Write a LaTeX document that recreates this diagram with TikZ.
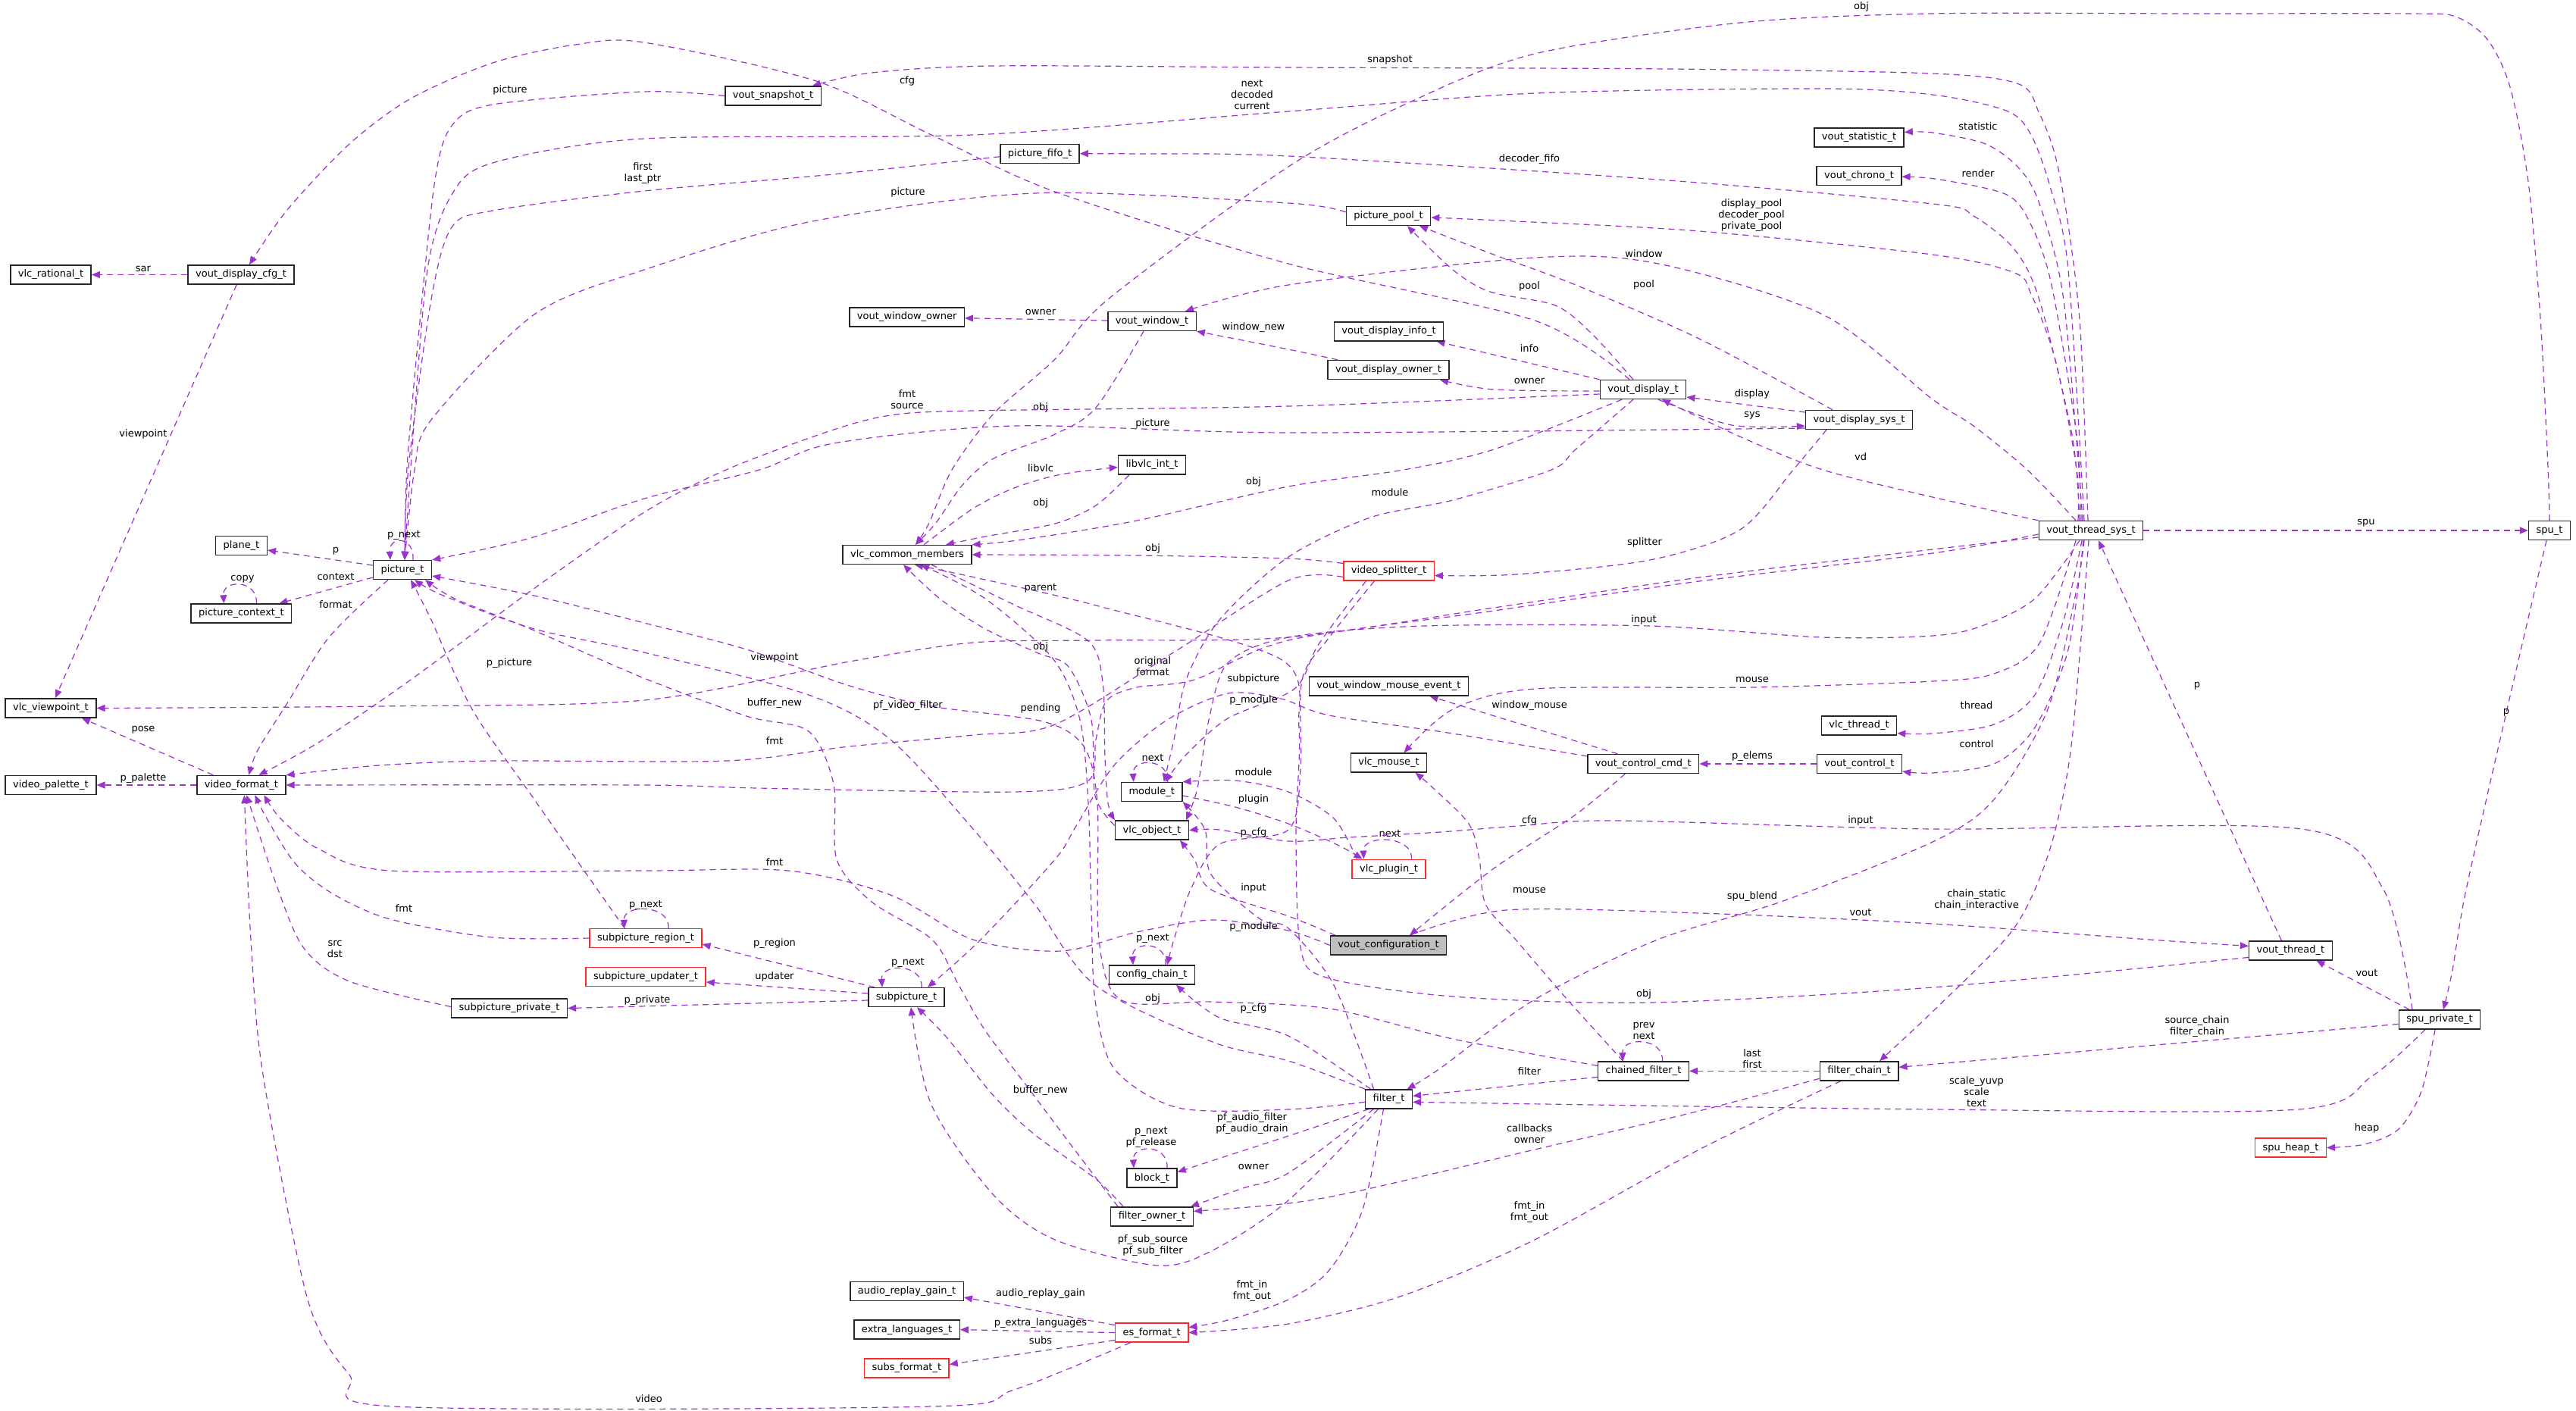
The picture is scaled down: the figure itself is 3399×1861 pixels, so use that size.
\documentclass[tikz,border=0pt]{standalone}
\usepackage{fontspec}
\setmainfont{DejaVu Sans}
\usetikzlibrary{arrows.meta, backgrounds}
\definecolor{edgec}{RGB}{154,50,205}
\definecolor{truncred}{RGB}{255,40,40}
\newcommand\gfont{\fontsize{13}{15}\selectfont}
\tikzset{cls/.style={draw=black!85, line width=1.4pt, fill=white, minimum height=25pt, inner xsep=10pt, inner ysep=2pt, font=\gfont},
clsred/.style={cls, draw=truncred},
clscur/.style={cls, fill=black!25},
ref/.style={draw=edgec, line width=1.2pt, dash pattern=on 8pt off 6pt, -{Triangle[length=11pt,width=9pt]}},
lbl/.style={font=\gfont, align=center, inner sep=0pt, text=black}}

\begin{document}
\begin{tikzpicture}[x=1pt, y=-1pt]
  \useasboundingbox (0,0) rectangle (3399,1861);
  % structs
  \node[cls] (rat) at (67,362.5) {vlc\_rational\_t};
  \node[cls] (dcfg) at (318,362.5) {vout\_display\_cfg\_t};
  \node[cls] (snap) at (1020,126.5) {vout\_snapshot\_t};
  \node[cls] (fifo) at (1372,202.7) {picture\_fifo\_t};
  \node[cls] (wown) at (1196.6,418.5) {vout\_window\_owner};
  \node[cls] (win) at (1520,424) {vout\_window\_t};
  \node[cls] (libvlc) at (1520,613.5) {libvlc\_int\_t};
  \node[cls] (common) at (1197,732) {vlc\_common\_members};
  \node[cls] (pool) at (1832,285) {picture\_pool\_t};
  \node[cls] (stat) at (2453,181.5) {vout\_statistic\_t};
  \node[cls] (chrono) at (2453,232) {vout\_chrono\_t};
  \node[cls] (dinfo) at (1832.5,437.3) {vout\_display\_info\_t};
  \node[cls] (down) at (1832,488) {vout\_display\_owner\_t};
  \node[cls] (disp) at (2168,514) {vout\_display\_t};
  \node[cls] (dsys) at (2453,554) {vout\_display\_sys\_t};
  \node[cls] (vts) at (2759,700) {vout\_thread\_sys\_t};
  \node[cls] (spu) at (3364,700) {spu\_t};
  \node[cls] (plane) at (318.5,720) {plane\_t};
  \node[cls] (pic) at (531,752) {picture\_t};
  \node[cls] (pctx) at (318.4,809.5) {picture\_context\_t};
  \node[cls] (vp) at (67,934.5) {vlc\_viewpoint\_t};
  \node[cls] (pal) at (67,1036) {video\_palette\_t};
  \node[cls] (vfmt) at (318.4,1036) {video\_format\_t};
  \node[clsred] (split) at (1832.5,753.5) {video\_splitter\_t};
  \node[cls] (wme) at (1832.5,905.5) {vout\_window\_mouse\_event\_t};
  \node[cls] (thr) at (2453,957.5) {vlc\_thread\_t};
  \node[cls] (mouse) at (1832.5,1006.5) {vlc\_mouse\_t};
  \node[cls] (cmd) at (2168.3,1008) {vout\_control\_cmd\_t};
  \node[cls] (ctl) at (2453.4,1008) {vout\_control\_t};
  \node[cls] (mod) at (1519.7,1045) {module\_t};
  \node[cls] (obj) at (1520,1095.6) {vlc\_object\_t};
  \node[clsred] (plug) at (1832.5,1146.7) {vlc\_plugin\_t};
  \node[clscur] (conf) at (1832,1247.5) {vout\_configuration\_t};
  \node[clsred] (sreg) at (852,1238) {subpicture\_region\_t};
  \node[clsred] (supd) at (852,1289) {subpicture\_updater\_t};
  \node[cls] (spriv) at (672,1330.5) {subpicture\_private\_t};
  \node[cls] (sub) at (1196,1316) {subpicture\_t};
  \node[cls] (cchain) at (1520,1286.5) {config\_chain\_t};
  \node[cls] (block) at (1520,1554.6) {block\_t};
  \node[cls] (fown) at (1520,1605.4) {filter\_owner\_t};
  \node[cls] (arg) at (1196.6,1704) {audio\_replay\_gain\_t};
  \node[cls] (xlang) at (1196.6,1754.6) {extra\_languages\_t};
  \node[clsred] (subsf) at (1196.4,1805.4) {subs\_format\_t};
  \node[clsred] (es) at (1519.7,1758.6) {es\_format\_t};
  \node[cls] (filt) at (1832.5,1450.3) {filter\_t};
  \node[cls] (chf) at (2168.5,1413.3) {chained\_filter\_t};
  \node[cls] (fchain) at (2453,1413.3) {filter\_chain\_t};
  \node[cls] (vthr) at (3022.4,1254.4) {vout\_thread\_t};
  \node[cls] (spriv2) at (3219,1345.4) {spu\_private\_t};
  \node[clsred] (heap) at (3022.4,1514.6) {spu\_heap\_t};

  \begin{scope}[on background layer]
  \fill[white] (0,0) rectangle (3399,1861);
  % top area
  \draw[ref] plot[smooth] coordinates {(spu.north) (3362,617) (3352,420) (3336,240) (3312,115) (3282,52) (3240,22) (3180,18) (2900,18) (2550,18) (2296,30) (2025,71) (1862,134) (1700,220) (1462,395) (1392,474) (1311,546) (1256,620) (1226,690) ([xshift=11pt]common.north)} node[lbl] at (2456,9) {obj};
  \draw[ref] plot[smooth] coordinates {([xshift=-4pt]vts.north) (2745,436) (2729,297) (2712,206) (2691,150) (2664,111) (2550,97) (2200,91) (1700,89) (1311,87) (1150,96) ([xshift=52pt]snap.north)} node[lbl] at (1834,79) {snapshot};
  \draw[ref] plot[smooth] coordinates {([xshift=-18pt]disp.north) (2025,423) (1700,348) (1392,253) (1229,178) (1077,107) (850,56) (759,59) (650,83) (542,130) (461,190) (379,277) ([xshift=11pt]dcfg.north)} node[lbl] at (1197,107) {cfg};
  \draw[ref] plot[smooth] coordinates {(snap.west) (850,121) (650,138) (596,166) (574,237) (553,435) (537,617) ([xshift=3pt]pic.north)} node[lbl] at (673,119) {picture};
  \draw[ref] plot[smooth] coordinates {([xshift=-9pt]vts.north) (2729,356) (2707,253) (2680,178) (2647,146) (2550,125) (2405,117) (2025,123) (1700,147) (1284,178) (850,183) (650,215) (596,257) (564,356) (542,617) ([xshift=3pt]pic.north)} node[lbl] at (1652,125) {next\\decoded\\current};
  \draw[ref] plot[smooth] coordinates {([yshift=-4pt]fifo.west) (1100,230) (850,252) (650,278) (596,300) (569,395) (539,617) ([xshift=3pt]pic.north)} node[lbl] at (848,229) {first\\last\_ptr};
  \draw[ref] plot[smooth] coordinates {([yshift=5pt]pool.west) (1700,268) (1365,255) (1067,293) (850,356) (705,415) (569,554) (547,620) ([xshift=3pt]pic.north)} node[lbl] at (1198,254) {picture};
  \draw[ref] plot[smooth] coordinates {([xshift=-11pt]vts.north) (2723,396) (2691,269) (2664,222) (2620,190) (2550,175) ([yshift=7pt]stat.east)} node[lbl] at (2610,167) {statistic};
  \draw[ref] plot[smooth] coordinates {([xshift=-13pt]vts.north) (2740,574) (2707,376) (2680,297) (2648,257) (2560,237) ([yshift=-1pt]chrono.east)} node[lbl] at (2610,229) {render};
  \draw[ref] plot[smooth] coordinates {([xshift=-15pt]vts.north) (2734,574) (2691,396) (2658,329) (2604,285) (2550,269) (2188,237) (1700,206) (1500,203) (fifo.east)} node[lbl] at (2018,210) {decoder\_fifo};
  \draw[ref] plot[smooth] coordinates {([xshift=-17pt]vts.north) (2740,618) (2712,475) (2680,388) (2658,360) (2550,336) (2242,305) (2000,292) ([yshift=-2pt]pool.east)} node[lbl] at (2311,284) {display\_pool\\decoder\_pool\\private\_pool};
  \draw[ref] plot[smooth] coordinates {([xshift=-20pt]vts.north) (2675,620) (2604,562) (2550,527) (2405,415) (2188,348) (2025,340) (1700,376) ([xshift=44pt]win.north)} node[lbl] at (2169,335) {window};
  \draw[ref] (dcfg) -- (rat) node[lbl] at (189,355) {sar};
  \draw[ref] (dcfg) -- (vp) node[lbl] at (189,573) {viewpoint};
  % display
  \draw[ref] plot[smooth] coordinates {([xshift=-13pt]disp.north) (2100,440) (2052,403) (1966,385) (1917,356) ([xshift=25pt]pool.south)} node[lbl] at (2018,378) {pool};
  \draw[ref] plot[smooth] coordinates {([xshift=-35pt]dsys.north) (2242,447) (2079,376) (1971,336) ([xshift=41pt]pool.south)} node[lbl] at (2169,376) {pool};
  \draw[ref] (disp.north west) -- ([xshift=63pt]dinfo.south) node[lbl] at (2018,460) {info};
  \draw[ref] plot[smooth] coordinates {([yshift=-2pt]disp.west) (1971,514) ([xshift=68pt]down.south)} node[lbl] at (2018,503) {owner};
  \draw[ref] ([yshift=10pt]dsys.west) -- ([yshift=-10pt]disp.east) node[lbl] at (2312,520) {display};
  \draw[ref] plot[smooth] coordinates {([xshift=20pt]disp.south) (2285,561) ([yshift=-8pt]dsys.west)} node[lbl] at (2312,548) {sys};
  \draw[ref] plot[smooth] coordinates {(vts.north west) (2550,656) (2405,620) (2300,578) ([xshift=25pt]disp.south)} node[lbl] at (2455,603) {vd};
  \draw[ref] plot[smooth] coordinates {([xshift=-67pt]down.north) (1700,461) (win.south east)} node[lbl] at (1654,432) {window\_new};
  \draw[ref] (win) -- (wown) node[lbl] at (1373,412) {owner};
  \draw[ref] plot[smooth] coordinates {([xshift=-11pt]win.south) (1446,538) (1392,573) (1311,605) (1270,640) (1235,690) ([xshift=11pt]common.north)} node[lbl] at (1373,538) {obj};
  \draw[ref] plot[smooth] coordinates {([yshift=-6pt]disp.west) (1700,536) (1284,542) (1175,548) (1094,569) (958,620) (850,676) (700,780) (542,897) (420,980) ([xshift=23pt]vfmt.north)} node[lbl] at (1197,527) {fmt\\source};
  \draw[ref] plot[smooth] coordinates {([yshift=-11pt]dsys.west) (1700,571) (1338,562) (1100,585) (1002,620) (850,658) (700,710) (pic.north east)} node[lbl] at (1521,559) {picture};
  \draw[ref] plot[smooth] coordinates {([xshift=22pt]common.north) (1284,671) (1338,644) (1400,626) ([yshift=-3pt]libvlc.west)} node[lbl] at (1373,618) {libvlc};
  \draw[ref] plot[smooth] coordinates {([xshift=-30pt]libvlc.south) (1446,667) (1392,691) (1300,708) ([xshift=51pt]common.north)} node[lbl] at (1373,664) {obj};
  \draw[ref] plot[smooth] coordinates {([xshift=-28pt]disp.south) (1971,593) (1852,620) (1700,642) (1500,687) (1350,712) (common.north east)} node[lbl] at (1654,636) {obj};
  \draw[ref] plot[smooth] coordinates {([xshift=-13pt]disp.south) (2079,593) (2047,620) (1917,660) (1808,683) (1700,735) (1609,818) (1565,897) (1549,976) ([xshift=16pt]mod.north)} node[lbl] at (1834,650) {module};
  \draw[ref] plot[smooth] coordinates {([yshift=10pt]split.west) (1700,737) (1500,733) (common.east)} node[lbl] at (1521,724) {obj};
  \draw[ref] plot[smooth] coordinates {([xshift=-43pt]dsys.south) (2366,620) (2296,699) (2177,739) (2000,758) ([yshift=-6pt]split.east)} node[lbl] at (2170,716) {splitter};
  % spu and vout thread
  \draw[ref] (vts) -- (spu) node[lbl] at (3122,690) {spu};
  \draw[ref] ([xshift=-12pt]vthr.north) -- ([xshift=10pt]vts.south) node[lbl] at (2899,905) {p};
  \draw[ref] plot[smooth] coordinates {([xshift=-4pt]spu.south) (3308,936) (3254,1174) (3236,1280) ([xshift=5pt]spriv2.north)} node[lbl] at (3307,940) {p};
  \draw[ref] ([xshift=-40pt]spriv2.north) -- ([xshift=34pt]vthr.south) node[lbl] at (3123,1284) {vout};
  \draw[ref] plot[smooth] coordinates {([xshift=-6pt]spriv2.south) (3195,1440) (3165,1490) (3120,1510) (heap.east)} node[lbl] at (3123,1489) {heap};
  \draw[ref] ([yshift=-6pt]spriv2.west) -- ([yshift=5pt]fchain.east) node[lbl] at (2899,1355) {source\_chain\\filter\_chain};
  \draw[ref] plot[smooth] coordinates {([xshift=-19pt]spriv2.south) (3130,1420) (3032,1464) (2550,1464) ([yshift=-4pt]filt.east)} node[lbl] at (2608,1441) {scale\_yuvp\\scale\\text};
  \draw[ref] plot[smooth] coordinates {([xshift=28pt]conf.north) (1987,1201) (2242,1205) (2550,1219) (2837,1240) ([yshift=6pt]vthr.west)} node[lbl] at (2455,1204) {vout};
  \draw[ref] plot[smooth] coordinates {([yshift=-9pt]vthr.west) (2550,1303) (2177,1323) (1917,1315) (1750,1290) (1716,1250) (1710,1100) (1714,960) (1690,870) (1450,800) (1300,765) ([xshift=10pt]common.south)} node[lbl] at (2169,1312) {obj};
  \draw[ref] plot[smooth] coordinates {([xshift=-9pt]vts.south) (2740,778) (2702,936) (2631,1055) (2550,1111) (2350,1190) (2187,1240) (2025,1319) (1900,1410) ([xshift=24pt]filt.north)} node[lbl] at (2312,1183) {spu\_blend};
  \draw[ref] plot[smooth] coordinates {([xshift=-3pt]vts.south) (2734,976) (2712,1095) (2685,1174) (2648,1237) (2550,1335) ([xshift=27pt]fchain.north)} node[lbl] at (2608,1188) {chain\_static\\chain\_interactive};
  \draw[ref] plot[smooth] coordinates {([xshift=-12pt]vts.south) (2723,818) (2685,917) (2631,956) (2550,968) ([yshift=-10pt]thr.east)} node[lbl] at (2608,931) {thread};
  \draw[ref] plot[smooth] coordinates {([xshift=-10pt]vts.south) (2729,857) (2685,960) (2631,1008) (2550,1020) ([yshift=-10pt]ctl.east)} node[lbl] at (2608,982) {control};
  \draw[ref] plot[smooth] coordinates {([xshift=-20pt]vts.south) (2691,849) (2631,889) (2550,899) (2312,907) (2025,909) (1917,936) ([xshift=20pt]mouse.north)} node[lbl] at (2312,897) {mouse};
  \draw[ref] plot[smooth] coordinates {([yshift=-9pt]vts.west) (2550,725) (2242,762) (1971,802) (1700,841) (1446,845) (1284,848) (1121,873) (850,924) (500,932) (vp.east)} node[lbl] at (1022,868) {viewpoint};
  \draw[ref] plot[smooth] coordinates {([xshift=-15pt]vts.south) (2685,790) (2615,826) (2550,839) (2404,841) (2177,826) (1879,826) (1700,841) (1620,875) (1595,950) (1580,1040) ([xshift=45pt]obj.north)} node[lbl] at (2169,818) {input};
  \draw[ref] plot[smooth] coordinates {([yshift=-5pt]vts.west) (2550,730) (2242,767) (1971,806) (1700,845) (1576,897) (1500,907) (1460,925) (1446,976) (1435,1031) (1338,1045) (1000,1040) (850,1036) (vfmt.east)} node[lbl] at (1521,879) {original\\format};
  % control commands
  \draw[ref] (ctl) -- (cmd) node[lbl] at (2312,998) {p\_elems};
  \draw[ref] ([xshift=-34pt]cmd.north) -- ([xshift=54pt]wme.south) node[lbl] at (2018,931) {window\_mouse};
  \draw[ref] plot[smooth] coordinates {([xshift=-24pt]cmd.south) (2079,1075) (1971,1146) ([xshift=28pt]conf.north)} node[lbl] at (2018,1083) {cfg};
  \draw[ref] plot[smooth] coordinates {([yshift=10pt]cmd.west) (1917,968) (1754,944) (1690,922) (1620,915) (1540,950) (1470,1010) (1420,1090) (1392,1134) (1294,1240) ([xshift=28pt]sub.north)} node[lbl] at (1654,896) {subpicture};
  \draw[ref] plot[smooth] coordinates {([xshift=-27pt]chf.north) (2068,1319) (2000,1240) (1960,1193) (1952,1134) (1938,1087) (1890,1039) ([xshift=35pt]mouse.south)} node[lbl] at (2018,1175) {mouse};
  \draw[ref] plot[smooth] coordinates {([yshift=7pt]chf.west) (1917,1371) (1754,1331) (1600,1322) (1480,1320) (1450,1240) (1448,1060) (1430,985) (1376,952) (1229,932) (1121,905) (985,857) (850,822) (700,785) ([yshift=-8pt]pic.east)} node[lbl] at (1373,935) {pending};
  % objects and modules
  \draw[ref] plot[smooth] coordinates {([xshift=32pt]common.south) (1338,798) (1435,845) (1455,900) (1458,1000) (1462,1060) (obj.north west)} node[lbl] at (1373,776) {parent};
  \draw[ref] plot[smooth] coordinates {([yshift=6pt]obj.west) (1445,1050) (1440,950) (1410,880) (1370,862) (1300,830) (1240,790) ([xshift=-5pt]common.south)} node[lbl] at (1373,854) {obj};
  \draw[ref] ([xshift=21pt]mod.north) .. controls ([xshift=23pt,yshift=32pt]mod.north) and ([xshift=-26pt,yshift=32pt]mod.north) .. ([xshift=-24pt]mod.north) node[lbl] at (1521,1000) {next};
  \draw[ref] plot[smooth] coordinates {([xshift=-42pt]plug.north) (1760,1080) (1700,1045) (1630,1030) (mod.north east)} node[lbl] at (1654,1019) {module};
  \draw[ref] plot[smooth] coordinates {([yshift=-5pt]mod.east) (1630,1065) (1700,1087) (1765,1115) ([xshift=-35pt]plug.north)} node[lbl] at (1654,1055) {plugin};
  \draw[ref] ([xshift=30pt]plug.north) .. controls ([xshift=32pt,yshift=32pt]plug.north) and ([xshift=-35pt,yshift=32pt]plug.north) .. ([xshift=-33pt]plug.north) node[lbl] at (1834,1100) {next};
  \draw[ref] plot[smooth] coordinates {([xshift=-30pt]split.south) (1740,850) (1708,909) (1620,948) (1565,996) ([xshift=18pt]mod.north)} node[lbl] at (1654,924) {p\_module};
  \draw[ref] plot[smooth] coordinates {([xshift=-19pt]split.south) (1754,841) (1718,897) (1716,1015) (1700,1095) (1609,1114) (1571,1174) (1549,1240) ([xshift=20pt]cchain.north)} node[lbl] at (1654,1099) {p\_cfg};
  \draw[ref] plot[smooth] coordinates {([yshift=-8pt]split.west) (1700,766) (1550,860) (1392,956) (1284,970) (1121,985) (958,1004) (650,1004) (500,1010) (vfmt.north east)} node[lbl] at (1022,978) {fmt};
  \draw[ref] plot[smooth] coordinates {(conf.west) (1700,1228) (1600,1214) (1500,1230) (1400,1255) (1284,1240) (1175,1181) (1040,1149) (850,1149) (515,1149) (420,1120) (370,1080) ([xshift=30pt]vfmt.south)} node[lbl] at (1022,1138) {fmt};
  \draw[ref] plot[smooth] coordinates {([xshift=-70pt]conf.north) (1700,1209) (1598,1174) (1576,1134) ([xshift=37pt]obj.south)} node[lbl] at (1654,1172) {input};
  \draw[ref] plot[smooth] coordinates {([xshift=-36pt]spriv2.north) (3145,1174) (3037,1094) (2550,1094) (2134,1083) (2003,1090) (1900,1098) (1780,1105) (1700,1110) (1609,1095) (obj.east)} node[lbl] at (2455,1083) {input};
  % subpictures
  \draw[ref] ([xshift=-42pt]sub.north) -- ([yshift=-8pt]sreg.east) node[lbl] at (1022,1245) {p\_region};
  \draw[ref] ([yshift=5pt]sub.west) -- ([yshift=-7pt]supd.east) node[lbl] at (1022,1289) {updater};
  \draw[ref] ([yshift=-4pt]sub.west) -- (spriv.east) node[lbl] at (854,1320) {p\_private};
  \draw[ref] ([xshift=20pt]sub.north) .. controls ([xshift=22pt,yshift=32pt]sub.north) and ([xshift=-34pt,yshift=32pt]sub.north) .. ([xshift=-32pt]sub.north) node[lbl] at (1198,1270) {p\_next};
  \draw[ref] ([xshift=30pt]sreg.north) .. controls ([xshift=32pt,yshift=32pt]sreg.north) and ([xshift=-30pt,yshift=32pt]sreg.north) .. ([xshift=-28pt]sreg.north) node[lbl] at (852,1194) {p\_next};
  \draw[ref] ([xshift=18pt]cchain.north) .. controls ([xshift=20pt,yshift=32pt]cchain.north) and ([xshift=-27pt,yshift=32pt]cchain.north) .. ([xshift=-25pt]cchain.north) node[lbl] at (1521,1238) {p\_next};
  \draw[ref] plot[smooth] coordinates {([xshift=-28pt]sreg.north) (705,1055) (623,936) (569,818) ([xshift=11pt]pic.south)} node[lbl] at (672,875) {p\_picture};
  \draw[ref] plot[smooth] coordinates {(sreg.west) (650,1237) (515,1213) (440,1180) (390,1140) (352,1080) ([xshift=18pt]vfmt.south)} node[lbl] at (533,1199) {fmt};
  \draw[ref] plot[smooth] coordinates {([yshift=2pt]spriv.west) (461,1295) (400,1250) (362,1160) ([xshift=7pt]vfmt.south)} node[lbl] at (442,1252) {src\\dst};
  \draw[ref] plot[smooth] coordinates {([xshift=-28pt]es.south) (1338,1834) (1229,1856) (520,1856) (461,1814) (406,1715) (347,1418) (331,1240) ([xshift=4pt]vfmt.south)} node[lbl] at (856,1846) {video};
  % picture related
  \draw[ref] ([xshift=14pt]pic.north) .. controls ([xshift=16pt,yshift=32pt]pic.north) and ([xshift=-18pt,yshift=32pt]pic.north) .. ([xshift=-16pt]pic.north) node[lbl] at (533,706) {p\_next};
  \draw[ref] ([yshift=6pt]pic.west) -- ([yshift=-6pt]plane.east) node[lbl] at (443,727) {p};
  \draw[ref] ([yshift=-10pt]pic.west) -- ([xshift=50pt]pctx.north) node[lbl] at (443,761) {context};
  \draw[ref] ([xshift=20pt]pctx.north) .. controls ([xshift=22pt,yshift=32pt]pctx.north) and ([xshift=-25pt,yshift=32pt]pctx.north) .. ([xshift=-23pt]pctx.north) node[lbl] at (320,764) {copy};
  \draw[ref] plot[smooth] coordinates {([xshift=-19pt]pic.south) (434,841) (379,928) (340,990) ([xshift=10pt]vfmt.north)} node[lbl] at (443,798) {format};
  \draw[ref] ([xshift=-37pt]vfmt.north) -- ([xshift=41pt]vp.south) node[lbl] at (189,963) {pose};
  \draw[ref] (vfmt.west) -- (pal.east) node[lbl] at (189,1027) {p\_palette};
  % filters
  \draw[ref] plot[smooth] coordinates {([xshift=-45pt]fown.north) (1420,1520) (1360,1440) (1300,1360) (1265,1300) (1230,1240) (1150,1190) (1104,1134) (1100,1035) (1067,965) (985,945) (850,895) (700,830) (600,790) ([xshift=30pt]pic.south)} node[lbl] at (1022,928) {buffer\_new};
  \draw[ref] plot[smooth] coordinates {([xshift=-38pt]fown.north) (1446,1556) (1365,1497) (1311,1446) (1250,1370) ([xshift=14pt]sub.south)} node[lbl] at (1373,1439) {buffer\_new};
  \draw[ref] plot[smooth] coordinates {(filt.north west) (1700,1400) (1600,1375) (1445,1300) (1365,1193) (1284,1094) (1175,976) (1067,917) (850,861) (705,830) (585,786) ([xshift=16pt]pic.south)} node[lbl] at (1198,931) {pf\_video\_filter};
  \draw[ref] plot[smooth] coordinates {([yshift=-4pt]filt.west) (1700,1464) (1555,1462) (1470,1410) (1445,1320) (1440,1200) (1436,1060) (1425,950) (1390,870) (1300,790) ([xshift=18pt]common.south)} node[lbl] at (1521,1318) {obj};
  \draw[ref] plot[smooth] coordinates {([xshift=-24pt]filt.north) (1700,1367) (1609,1343) ([xshift=32pt]cchain.south)} node[lbl] at (1654,1331) {p\_cfg};
  \draw[ref] plot[smooth] coordinates {([xshift=-20pt]filt.north) (1760,1300) (1700,1225) (1663,1213) (1598,1154) (1590,1095) (mod.south east)} node[lbl] at (1654,1223) {p\_module};
  \draw[ref] plot[smooth] coordinates {([xshift=-26pt]filt.south) (1700,1499) (1620,1525) ([yshift=8pt]block.east)} node[lbl] at (1652,1483) {pf\_audio\_filter\\pf\_audio\_drain};
  \draw[ref] ([xshift=20pt]block.north) .. controls ([xshift=22pt,yshift=32pt]block.north) and ([xshift=-26pt,yshift=32pt]block.north) .. ([xshift=-24pt]block.north) node[lbl] at (1519,1501) {p\_next\\pf\_release};
  \draw[ref] plot[smooth] coordinates {([xshift=-20pt]filt.south) (1700,1548) (1640,1568) ([xshift=51pt]fown.north)} node[lbl] at (1654,1540) {owner};
  \draw[ref] plot[smooth] coordinates {([xshift=-14pt]filt.south) (1700,1584) (1600,1650) (1527,1670) (1392,1636) (1311,1577) (1229,1458) ([xshift=6pt]sub.south)} node[lbl] at (1521,1644) {pf\_sub\_source\\pf\_sub\_filter};
  \draw[ref] plot[smooth] coordinates {([yshift=-10pt]fchain.west) (2242,1466) (2025,1517) (1800,1570) (1700,1588) ([yshift=7pt]fown.east)} node[lbl] at (2018,1496) {callbacks\\owner};
  \draw[ref] plot[smooth] coordinates {([xshift=-7pt]filt.south) (1798,1596) (1754,1676) (1700,1715) (1620,1742) ([yshift=7pt]es.east)} node[lbl] at (1652,1704) {fmt\_in\\fmt\_out};
  \draw[ref] plot[smooth] coordinates {([xshift=-24pt]fchain.south) (2242,1517) (2025,1636) (1850,1710) (1700,1747) (es.east)} node[lbl] at (2018,1600) {fmt\_in\\fmt\_out};
  \draw[ref] ([yshift=10pt]es.west) -- ([yshift=-8pt]arg.east) node[lbl] at (1373,1707) {audio\_replay\_gain};
  \draw[ref] (es.west) -- (xlang.east) node[lbl] at (1373,1746) {p\_extra\_languages};
  \draw[ref] ([yshift=-10pt]es.west) -- ([yshift=5pt]subsf.east) node[lbl] at (1373,1769) {subs};
  \draw[ref] ([yshift=-8pt]chf.west) -- ([yshift=4pt]filt.east) node[lbl] at (2018,1414) {filter};
  \draw[ref] (fchain) -- (chf) node[lbl] at (2312,1397) {last\\first};
  \draw[ref] ([xshift=25pt]chf.north) .. controls ([xshift=27pt,yshift=32pt]chf.north) and ([xshift=-29pt,yshift=32pt]chf.north) .. ([xshift=-27pt]chf.north) node[lbl] at (2169,1360) {prev\\next};
  \end{scope}
\end{tikzpicture}
\end{document}
